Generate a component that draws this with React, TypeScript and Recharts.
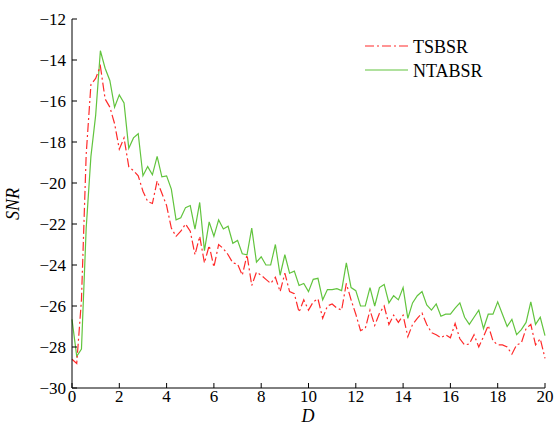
import React from 'react';
import { LineChart, Line, XAxis, YAxis, Legend } from 'recharts';

const dValues = [
  0, 0.2, 0.4, 0.6, 0.8, 1, 1.2, 1.4, 1.6, 1.8,
  2, 2.2, 2.4, 2.6, 2.8, 3, 3.2, 3.4, 3.6, 3.8,
  4, 4.2, 4.4, 4.6, 4.8, 5, 5.2, 5.4, 5.6, 5.8,
  6, 6.2, 6.4, 6.6, 6.8, 7, 7.2, 7.4, 7.6, 7.8,
  8, 8.2, 8.4, 8.6, 8.8, 9, 9.2, 9.4, 9.6, 9.8,
  10, 10.2, 10.4, 10.6, 10.8, 11, 11.2, 11.4, 11.6, 11.8,
  12, 12.2, 12.4, 12.6, 12.8, 13, 13.2, 13.4, 13.6, 13.8,
  14, 14.2, 14.4, 14.6, 14.8, 15, 15.2, 15.4, 15.6, 15.8,
  16, 16.2, 16.4, 16.6, 16.8, 17, 17.2, 17.4, 17.6, 17.8,
  18, 18.2, 18.4, 18.6, 18.8, 19, 19.2, 19.4, 19.6, 19.8,
  20,
];

const tsbsr = [
  -28.6, -28.8, -25.7, -18.6, -15.2, -14.9, -14.3, -15.9, -16.3, -17.1,
  -18.35, -17.8, -19.2, -19.4, -19.65, -20.4, -20.9, -21.0, -19.9, -20.5,
  -21.1, -22.2, -22.6, -22.35, -22.0, -22.35, -23.5, -22.6, -23.9, -23.05,
  -24.1, -23.0, -23.2, -23.5, -23.9, -23.95, -24.5, -23.5, -25.0, -24.35,
  -24.5, -24.7, -24.9, -24.6, -25.3, -24.4, -25.3, -25.4, -26.3, -25.7,
  -26.2, -25.8, -25.65, -26.6, -26.0, -25.9, -26.1, -26.2, -24.9, -25.7,
  -26.4, -27.2, -27.1, -26.2, -26.95, -26.35, -26.0, -26.9, -26.45, -26.8,
  -26.45, -27.5, -26.9, -26.6, -26.35, -26.9, -27.3, -27.4, -27.55, -27.4,
  -27.55, -26.85, -27.6, -27.9, -27.85, -27.4, -28.0, -27.5, -26.95, -27.7,
  -27.9, -27.9, -28.0, -28.35, -27.9, -27.8, -27.1, -26.9, -27.9, -27.6,
  -28.55,
];

const ntabsr = [
  -26.65, -28.45, -28.1, -22.2, -18.7, -16.7, -13.55, -14.4, -15.0, -16.3,
  -15.7, -16.1, -18.3, -17.8, -17.6, -19.65, -19.2, -19.6, -18.7, -19.7,
  -19.65, -20.3, -21.8, -21.7, -21.2, -21.1, -22.25, -20.95, -23.3, -21.9,
  -22.6, -21.8, -22.24, -22.11, -22.94, -22.8, -23.45, -23.5, -22.2, -23.86,
  -23.6, -24.0, -24.0, -23.0, -24.5, -23.5, -24.4, -24.3, -25.0, -24.9,
  -25.3, -24.7, -24.65, -25.7, -25.2, -25.2, -25.15, -25.25, -23.9, -25.1,
  -25.25, -26.0, -26.0, -25.1, -26.0, -25.1, -24.95, -25.85, -25.5, -25.7,
  -25.1, -26.6, -25.85, -25.5, -25.3, -25.95, -26.2, -25.9, -26.5, -26.4,
  -26.4, -26.1, -25.85, -26.55, -26.9, -26.55, -26.2, -27.1, -26.4, -26.4,
  -25.8, -26.4, -27.0, -26.65, -27.4, -27.15, -26.8, -25.8, -26.9, -26.55,
  -27.45,
];

const xTicks = [0, 2, 4, 6, 8, 10, 12, 14, 16, 18, 20];
const yTicks = [-30, -28, -26, -24, -22, -20, -18, -16, -14, -12];

const seriesNames = ['TSBSR', 'NTABSR'];

const data = dValues.map((d, i) => ({ d, tsbsr: tsbsr[i], ntabsr: ntabsr[i] }));

const FONT = 'Liberation Serif, Times New Roman, serif';
const RED = '#ff2a2a';
const GREEN = '#62c43e';
const DASH = '9 3 2 3';

const fmt = (v: number) => String(v).replace('-', '\u2212');

const XTick = (props: any) => {
  const { x, y, payload } = props;
  return (
    <text x={x} y={y} dy="0.71em" textAnchor="middle" fontFamily={FONT} fontSize={17} fill="#000">
      {fmt(payload.value)}
    </text>
  );
};

const YTick = (props: any) => {
  const { x, y, payload } = props;
  return (
    <text x={x} y={y} dy="0.34em" textAnchor="end" fontFamily={FONT} fontSize={17} fill="#000">
      {fmt(payload.value)}
    </text>
  );
};

const LegendBox = () => (
  <svg width={190} height={60}>
    <line x1={5} x2={48} y1={16} y2={16} stroke={RED} strokeWidth={1.2} strokeDasharray={DASH} />
    <text x={53} y={22.5} fontFamily={FONT} fontSize={18} fill="#000">{seriesNames[0]}</text>
    <line x1={5} x2={48} y1={40} y2={40} stroke={GREEN} strokeWidth={1.2} />
    <text x={53} y={46.5} fontFamily={FONT} fontSize={18} fill="#000">{seriesNames[1]}</text>
  </svg>
);

export default function App() {
  return (
    <div style={{ position: 'absolute', left: 0, top: 0, width: 557, height: 426, background: '#fff', fontFamily: FONT }}>
      <LineChart width={557} height={426} data={data} margin={{ top: 19, right: 12, bottom: 0, left: 0 }}>
        <XAxis
          dataKey="d"
          type="number"
          domain={[0, 20]}
          ticks={xTicks}
          interval={0}
          height={38}
          tickSize={-5}
          tickMargin={7}
          axisLine={{ stroke: '#000', strokeWidth: 1 }}
          tickLine={{ stroke: '#000' }}
          tick={<XTick />}
          label={() => (
            <text x={308} y={422} textAnchor="middle" fontFamily={FONT} fontStyle="italic" fontSize={18} fill="#000">D</text>
          )}
        />
        <YAxis
          type="number"
          domain={[-30, -12]}
          ticks={yTicks}
          interval={0}
          width={72}
          tickSize={-5}
          tickMargin={11}
          axisLine={{ stroke: '#000', strokeWidth: 1 }}
          tickLine={{ stroke: '#000' }}
          tick={<YTick />}
          label={() => (
            <text x={19} y={204} transform="rotate(-90 19 204)" textAnchor="middle" fontFamily={FONT} fontStyle="italic" fontSize={18} fill="#000">SNR</text>
          )}
        />
        <Legend
          layout="vertical"
          align="center"
          verticalAlign="middle"
          wrapperStyle={{ position: 'absolute', left: 360, top: 30, width: 190, height: 60 }}
          content={() => <LegendBox />}
        />
        <Line dataKey="ntabsr" name={seriesNames[1]} stroke={GREEN} strokeWidth={1.2} dot={false} isAnimationActive={false} />
        <Line dataKey="tsbsr" name={seriesNames[0]} stroke={RED} strokeWidth={1.2} strokeDasharray={DASH} dot={false} isAnimationActive={false} />
      </LineChart>
    </div>
  );
}
